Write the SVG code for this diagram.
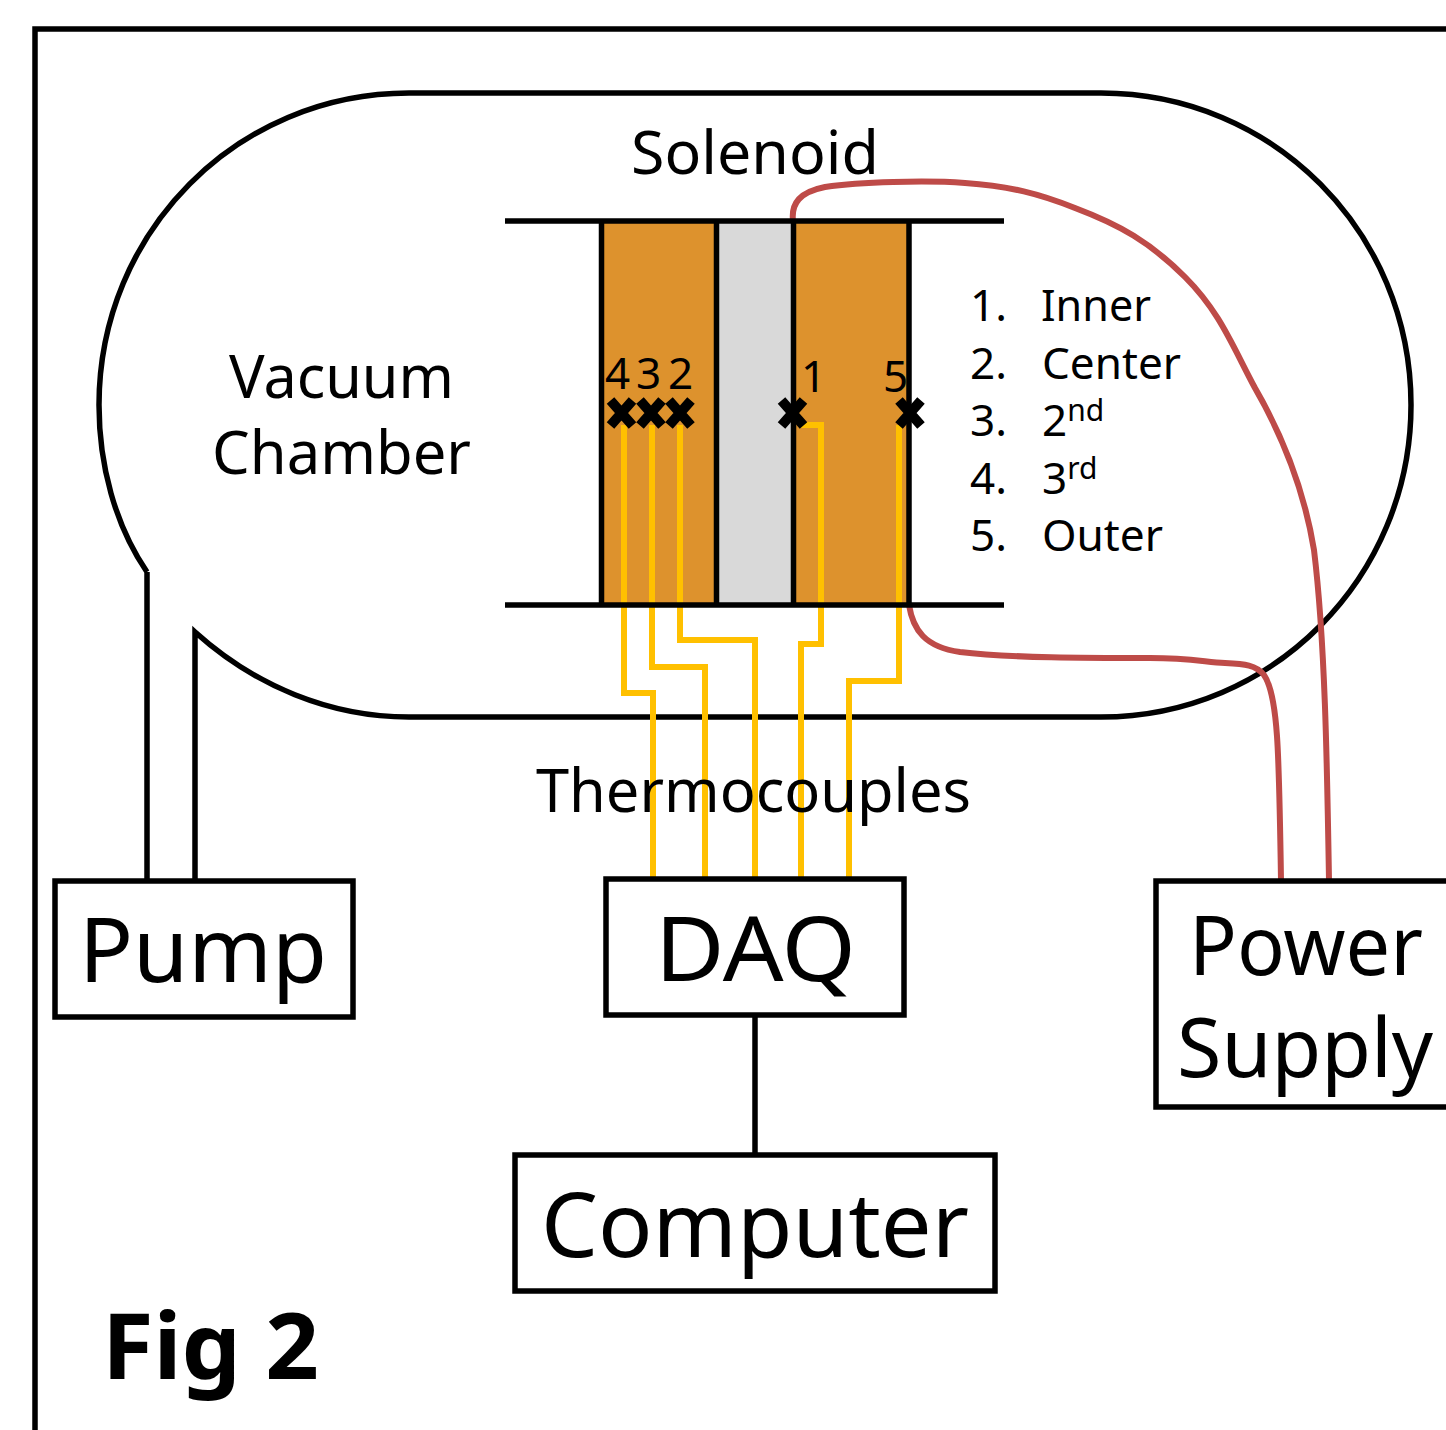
<svg xmlns="http://www.w3.org/2000/svg" width="1446" height="1430" viewBox="0 0 1446 1430">
<style>
text{font-family:"Noto Sans","Open Sans","DejaVu Sans",sans-serif;fill:#000}
.k{fill:none;stroke:#000;stroke-width:5.5}
.box{fill:#fff;stroke:#000;stroke-width:5.5}
.y{fill:none;stroke:#ffc000;stroke-width:6}
.r{fill:none;stroke:#be4b48;stroke-width:6}
.o{fill:#dd922d}
.x{stroke:#000;stroke-width:10;fill:none}
.l{font-size:44px}
.m{font-size:60px}
.b{font-size:90px}
.p{font-size:82px}
</style>
<rect width="1446" height="1430" fill="#fff"/>
<g id="frame"><path class="k" d="M35 1430V29H1446"/></g>
<g id="chamber"><path class="k" d="M147 572C115 525 99 465 99 405C99 232 237 93 409 93H1101C1273 93 1411 232 1411 405C1411 577 1273 717 1101 717H409C330 717 255 686 195 632V880M147 572V880"/></g>
<g id="solenoid">
<rect class="o" x="601" y="221" width="115" height="384"/>
<rect x="717" y="221" width="76" height="384" fill="#d9d9d9"/>
<rect class="o" x="793" y="221" width="116" height="384"/>
<path class="k" d="M601.500 221V605M716.500 221V605M793.500 221V605M909 221V605"/>
</g>
<g id="connectors">
<path class="y" d="M624 425V693H653V880M652 425V667H705V880M680 425V640H755V880M800 425H821V644H801V880M899 425V681H849V880"/>
<path class="r" d="M793 221C791 203 800 192 825 187C860 182 925 180 965 183C1010 186 1040 194 1075 208C1120 225 1150 242 1185 277C1220 312 1232 345 1255 388C1285 440 1305 495 1314 550C1325 640 1327 760 1329 880"/>
<path class="r" d="M909 605C913 630 925 647 960 652C1010 658 1090 658 1150 658C1190 658 1205 662 1225 663C1245 664 1256 665 1264 675C1278 695 1279 750 1281 880"/>
<path class="k" d="M755 1015V1155"/>
</g>
<g id="plates"><path class="k" d="M505 221H1004M505 605H1004"/></g>
<g id="marks">
<path class="x" d="M610.500 400.500L632.500 425.500M632.500 400.500L610.500 425.500M640 400.500L662 425.500M662 400.500L640 425.500M669 400.500L691 425.500M691 400.500L669 425.500M781.500 400.500L803.500 425.500M803.500 400.500L781.500 425.500M899 400.500L921 425.500M921 400.500L899 425.500"/>
</g>
<g id="pump"><rect class="box" x="55" y="881" width="298" height="136"/><text class="b" x="79" y="982" textLength="248" lengthAdjust="spacingAndGlyphs">Pump</text></g>
<g id="daq"><rect class="box" x="606" y="879" width="298" height="136"/><text class="b" x="655" y="981" textLength="201" lengthAdjust="spacingAndGlyphs">DAQ</text></g>
<g id="computer"><rect class="box" x="515" y="1155" width="480" height="136"/><text class="b" x="541" y="1257" textLength="428" lengthAdjust="spacingAndGlyphs">Computer</text></g>
<g id="power"><rect class="box" x="1156" y="881" width="295" height="226"/><text class="p" x="1189" y="975" textLength="234" lengthAdjust="spacingAndGlyphs">Power</text><text class="p" x="1177" y="1077" textLength="256" lengthAdjust="spacingAndGlyphs">Supply</text></g>
<g id="labels">
<text class="m" x="631" y="174" textLength="248" lengthAdjust="spacingAndGlyphs">Solenoid</text>
<text class="m" x="229" y="398" textLength="225" lengthAdjust="spacingAndGlyphs">Vacuum</text>
<text class="m" x="212" y="474" textLength="259" lengthAdjust="spacingAndGlyphs">Chamber</text>
<text class="m" x="536" y="812" textLength="435" lengthAdjust="spacingAndGlyphs">Thermocouples</text>
<text class="l" x="605" y="389">4</text><text class="l" x="636" y="389">3</text><text class="l" x="668" y="389">2</text><text class="l" x="801" y="392">1</text><text class="l" x="883" y="392">5</text>
<text class="l" x="970" y="321">1.</text><text class="l" x="1041" y="321" textLength="110" lengthAdjust="spacingAndGlyphs">Inner</text>
<text class="l" x="970" y="379">2.</text><text class="l" x="1042" y="379" textLength="139" lengthAdjust="spacingAndGlyphs">Center</text>
<text class="l" x="970" y="436">3.</text><text class="l" x="1042" y="436">2<tspan font-size="30" dy="-15">nd</tspan></text>
<text class="l" x="970" y="494">4.</text><text class="l" x="1042" y="494">3<tspan font-size="30" dy="-15">rd</tspan></text>
<text class="l" x="970" y="551">5.</text><text class="l" x="1042" y="551" textLength="121" lengthAdjust="spacingAndGlyphs">Outer</text>
<text x="102" y="1379" font-size="92" font-weight="700" textLength="217" lengthAdjust="spacingAndGlyphs">Fig 2</text>
</g>
</svg>
